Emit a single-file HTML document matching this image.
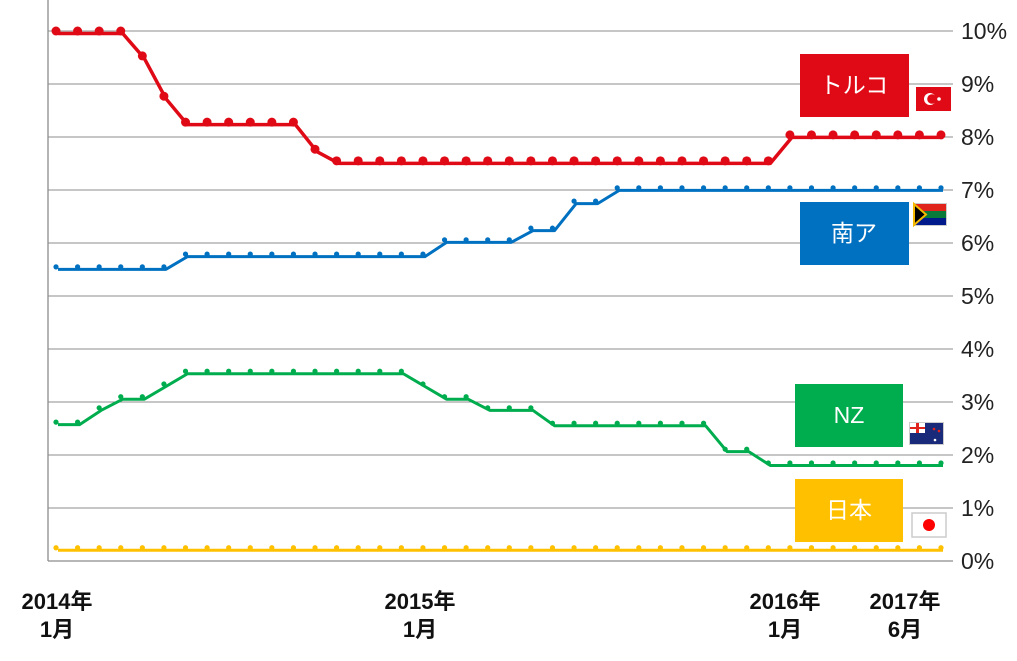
<!DOCTYPE html>
<html><head><meta charset="utf-8"><style>
body{margin:0;background:#fff;}
svg{display:block;font-family:"Liberation Sans","Noto Sans CJK JP",sans-serif;}
</style></head><body>
<svg id="chart" width="1017" height="661" viewBox="0 0 1017 661" xmlns="http://www.w3.org/2000/svg">
<g id="grid"></g><g id="series"></g><g id="labels"></g>
<g>
<rect x="800" y="54" width="109" height="63" fill="#e00a16"/>
<text x="854" y="93" fill="#fff" font-size="23" text-anchor="middle">トルコ</text>
<rect x="916" y="87" width="35" height="24" fill="#e00a16"/>
<circle cx="930" cy="99" r="6" fill="#fff"/><circle cx="932" cy="99" r="4.8" fill="#e00a16"/>
<circle cx="939" cy="99" r="1.8" fill="#fff"/>
</g>
<g>
<rect x="800" y="202" width="109" height="63" fill="#0070c0"/>
<text x="854" y="241" fill="#fff" font-size="23" text-anchor="middle">南ア</text>
<rect x="913" y="203" width="34" height="23" fill="#ccc"/>
<rect x="914" y="204" width="32" height="7" fill="#e0231b"/>
<rect x="914" y="211" width="32" height="7" fill="#0a7a3b"/>
<rect x="914" y="218" width="32" height="7" fill="#001a8c"/>
<polygon points="914,204 926,214.5 914,225" fill="#000" stroke="#f5b800" stroke-width="2"/>
</g>
<g>
<rect x="795" y="384" width="108" height="63" fill="#00ad4e"/>
<text x="849" y="423" fill="#fff" font-size="23" text-anchor="middle">NZ</text>
<rect x="909" y="422" width="35" height="23" fill="#ccc"/>
<rect x="910" y="423" width="33" height="21" fill="#1a2a7a"/>
<rect x="910" y="423" width="15" height="10" fill="#fff"/>
<rect x="916" y="423" width="3" height="10" fill="#e0231b"/><rect x="910" y="427" width="15" height="2" fill="#e0231b"/>
<circle cx="934" cy="429" r="1.3" fill="#e0231b"/><circle cx="939" cy="431" r="1.3" fill="#e0231b"/><circle cx="935" cy="440" r="1.3" fill="#fff"/>
</g>
<g>
<rect x="795" y="479" width="108" height="63" fill="#ffc000"/>
<text x="849" y="518" fill="#fff" font-size="23" text-anchor="middle">日本</text>
<rect x="912" y="513" width="34" height="24" fill="#fff" stroke="#ccc" stroke-width="1.5"/>
<circle cx="929" cy="525" r="6" fill="#f00"/>
</g>
</svg>
<script>
const yTicks=[0,1,2,3,4,5,6,7,8,9,10];
const xLabels=[["2014年","1月"],["2015年","1月"],["2016年","1月"],["2017年","6月"]];
const xLabelPos=[57,420,785,905];
const turkey=[10,10,10,10,9.53,8.77,8.28,8.28,8.28,8.28,8.28,8.28,7.77,7.55,7.55,7.55,7.55,7.55,7.55,7.55,7.55,7.55,7.55,7.55,7.55,7.55,7.55,7.55,7.55,7.55,7.55,7.55,7.55,7.55,8.04,8.04,8.04,8.04,8.04,8.04,8.04,8.04];
const southAfrica=[5.55,5.55,5.55,5.55,5.55,5.55,5.79,5.79,5.79,5.79,5.79,5.79,5.79,5.79,5.79,5.79,5.79,5.79,6.06,6.06,6.06,6.06,6.28,6.28,6.79,6.79,7.04,7.04,7.04,7.04,7.04,7.04,7.04,7.04,7.04,7.04,7.04,7.04,7.04,7.04,7.04,7.04];
const newZealand=[2.62,2.62,2.89,3.1,3.1,3.34,3.58,3.58,3.58,3.58,3.58,3.58,3.58,3.58,3.58,3.58,3.58,3.34,3.1,3.1,2.89,2.89,2.89,2.6,2.6,2.6,2.6,2.6,2.6,2.6,2.6,2.11,2.11,1.85,1.85,1.85,1.85,1.85,1.85,1.85,1.85,1.85];
const japan=[0.25,0.25,0.25,0.25,0.25,0.25,0.25,0.25,0.25,0.25,0.25,0.25,0.25,0.25,0.25,0.25,0.25,0.25,0.25,0.25,0.25,0.25,0.25,0.25,0.25,0.25,0.25,0.25,0.25,0.25,0.25,0.25,0.25,0.25,0.25,0.25,0.25,0.25,0.25,0.25,0.25,0.25];
const NS="http://www.w3.org/2000/svg";
const x=i=>56+i*(941-56)/41;
const y=v=>561-v*53;
function mk(t,a,p){const e=document.createElementNS(NS,t);for(const k in a)e.setAttribute(k,a[k]);p.appendChild(e);return e;}
const grid=document.getElementById('grid'),labels=document.getElementById('labels'),ser=document.getElementById('series');
yTicks.forEach(v=>{
 if(v>0){const l=mk('line',{x1:48,x2:953,y1:y(v),y2:y(v),stroke:'#8c8c8c','stroke-width':1.1},grid);
 
 }
 const t=mk('text',{x:961,y:y(v)+8,'font-size':23,fill:'#222'},labels);t.textContent=v+'%';
 
 
});
const ax=mk('line',{x1:48,x2:953,y1:561,y2:561,stroke:'#8c8c8c','stroke-width':1.3},grid);


const ay=mk('line',{x1:48,x2:48,y1:0,y2:561,stroke:'#8c8c8c','stroke-width':1.3},grid);


xLabels.forEach((lb,i)=>{
 const t=mk('text',{x:xLabelPos[i],y:609,'font-size':22,'font-weight':'bold','text-anchor':'middle',fill:'#111'},labels);t.textContent=lb[0];
 
 
 const t2=mk('text',{x:xLabelPos[i],y:637,'font-size':22,'font-weight':'bold','text-anchor':'middle',fill:'#111'},labels);t2.textContent=lb[1];
 
 
});
function draw(vals,color,lw,r,name){
 const g=mk('g',{},ser);
 
 
 const pts=vals.map((v,i)=>(x(i)+2)+','+(y(v)+2.5)).join(' ');
 const pl=mk('polyline',{points:pts,fill:'none',stroke:color,'stroke-width':lw,'stroke-linejoin':'round'},g);
 
 
 vals.forEach((v,i)=>{const c=mk('circle',{cx:x(i),cy:y(v),r:r,fill:color},g);
 
 });
}
draw(japan,'#ffc000',3,2.6,'japan-series');
draw(newZealand,'#00ad4e',3,2.6,'new-zealand-series');
draw(southAfrica,'#0070c0',3,2.6,'south-africa-series');
draw(turkey,'#e00a16',3.5,4.5,'turkey-series');
</script>
</body></html>
